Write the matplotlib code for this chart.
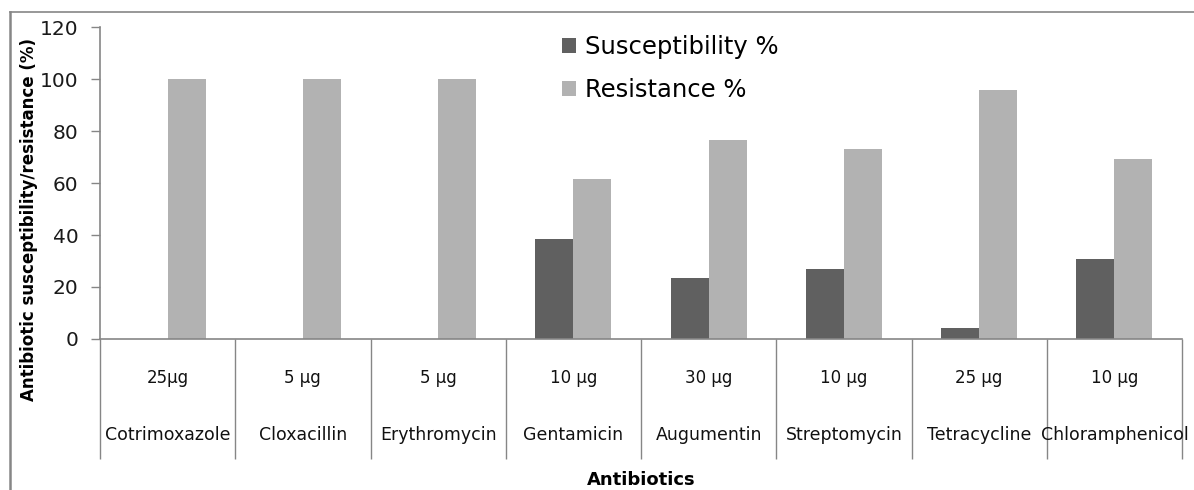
import matplotlib
matplotlib.use("Agg")
import matplotlib.pyplot as plt
from matplotlib.lines import Line2D
import numpy as np

antibiotics = ["Cotrimoxazole", "Cloxacillin", "Erythromycin", "Gentamicin",
               "Augumentin", "Streptomycin", "Tetracycline", "Chloramphenicol"]
doses = ["25\u00b5g", "5 \u00b5g", "5 \u00b5g", "10 \u00b5g", "30 \u00b5g",
         "10 \u00b5g", "25 \u00b5g", "10 \u00b5g"]
susceptibility = [0, 0, 0, 38.5, 23.5, 27, 4.2, 30.8]
resistance = [100, 100, 100, 61.5, 76.5, 73, 95.8, 69.2]
yticks = [0, 20, 40, 60, 80, 100, 120]

FONT = "DejaVu Sans"
W, H = 1194, 490
fig = plt.figure(figsize=(W / 100, H / 100), dpi=100)
ax = fig.add_axes([100 / W, 1 - 339 / H, (1182 - 100) / W, (339 - 27) / H])

gray = "#868686"
dark = "#606060"
light = "#b2b2b2"
bw = 38 / 135.25
x = np.arange(len(antibiotics)) + 0.5
ax.bar(x - bw, susceptibility, width=bw, align="edge", color=dark, label="Susceptibility %")
ax.bar(x, resistance, width=bw, align="edge", color=light, label="Resistance %")

ax.set_xlim(0, len(antibiotics))
ax.set_ylim(0, 120)
ax.set_yticks(yticks)
ax.set_yticklabels([str(v) for v in yticks], fontsize=14.5, family=FONT, color="#1a1a1a")
ax.set_xticks(np.arange(len(antibiotics) + 1))
ax.set_xticklabels([])
ax.tick_params(axis="x", length=120 * 0.72, color=gray, width=1)
ax.tick_params(axis="y", length=6.5, color=gray, width=1, pad=9)
for s in ["top", "right"]:
    ax.spines[s].set_visible(False)
for s in ["left", "bottom"]:
    ax.spines[s].set_color(gray)
    ax.spines[s].set_linewidth(1.2)

trans = ax.get_xaxis_transform()
for xi, d, n in zip(x, doses, antibiotics):
    ax.text(xi, -39 / 312, d, transform=trans, ha="center", va="center",
            fontsize=12, family=FONT, color="#111111")
    ax.text(xi, -96 / 312, n, transform=trans, ha="center", va="center",
            fontsize=12.5, family=FONT, color="#111111")

ax.text(4, -141 / 312, "Antibiotics", transform=trans, ha="center", va="center",
        fontsize=13, family=FONT, fontweight="bold")
fig.text(29 / W, 1 - 219 / H, "Antibiotic susceptibility/resistance (%)", rotation=90,
         ha="center", va="center", fontsize=12, family=FONT, fontweight="bold")

leg = ax.legend(loc="upper left", bbox_to_anchor=((540 - 100) / (1182 - 100), (339 - 13) / 312),
                frameon=False, prop={"family": FONT, "size": 17.5},
                handlelength=0.6, handleheight=0.6, handletextpad=0.35, labelspacing=0.8,
                borderpad=0.4)

# outer chart frame
fig.add_artist(Line2D([10 / W, 10 / W], [0, 1 - 12 / H], transform=fig.transFigure,
                      color=gray, lw=1.8))
fig.add_artist(Line2D([10 / W, 1], [1 - 12 / H, 1 - 12 / H], transform=fig.transFigure,
                      color=gray, lw=1.2))

fig.savefig("out.png", dpi=100)
